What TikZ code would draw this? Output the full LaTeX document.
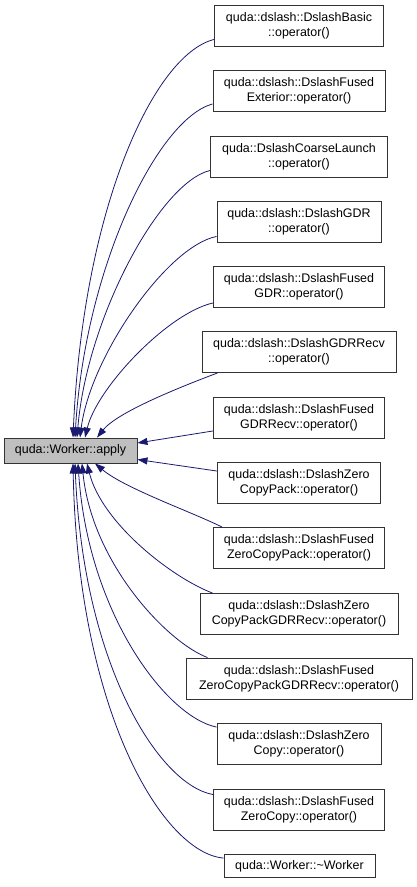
\documentclass[tikz,border=0pt]{standalone}
\usepackage{fontspec}
\setmainfont{Liberation Sans}
\usetikzlibrary{arrows.meta}
\definecolor{bleunuit}{RGB}{25,25,112}
\tikzset{
  fonction/.style={draw=black!80, line width=0.9pt, fill=white, inner sep=0pt,
    minimum height=41pt, align=center,
    font=\fontsize{12.45}{15}\selectfont},
  appelant/.style={fonction, fill=black!25, minimum height=25pt},
  fleche/.style={draw=bleunuit, line width=0.8pt,
    -{Triangle[length=10pt,width=7pt,fill=bleunuit]}}
}
\begin{document}
\begin{tikzpicture}[x=1pt, y=-1pt]
  \useasboundingbox (0,0) rectangle (417,887);
  % Fonction appelee
  \node[appelant, minimum width=133pt] (apply) at (70.5,450.5) {quda::Worker::apply};
  % Fonctions appelantes
  \node[fonction, minimum width=169pt] (basic) at (299,25.5)
    {quda::dslash::DslashBasic\\::operator()};
  \node[fonction, minimum width=172pt] (fusedext) at (299,91)
    {quda::dslash::DslashFused\\Exterior::operator()};
  \node[fonction, minimum width=177pt] (coarse) at (299,156.5)
    {quda::DslashCoarseLaunch\\::operator()};
  \node[fonction, minimum width=164pt] (gdr) at (299,221.5)
    {quda::dslash::DslashGDR\\::operator()};
  \node[fonction, minimum width=171pt] (fusedgdr) at (299,287)
    {quda::dslash::DslashFused\\GDR::operator()};
  \node[fonction, minimum width=194pt] (gdrrecv) at (299,352)
    {quda::dslash::DslashGDRRecv\\::operator()};
  \node[fonction, minimum width=171pt] (fusedgdrrecv) at (299,418)
    {quda::dslash::DslashFused\\GDRRecv::operator()};
  \node[fonction, minimum width=163pt] (zcpack) at (299,483)
    {quda::dslash::DslashZero\\CopyPack::operator()};
  \node[fonction, minimum width=171pt] (fusedzcpack) at (299,548)
    {quda::dslash::DslashFused\\ZeroCopyPack::operator()};
  \node[fonction, minimum width=198pt] (zcpackrecv) at (299,614)
    {quda::dslash::DslashZero\\CopyPackGDRRecv::operator()};
  \node[fonction, minimum width=226pt] (fusedzcpackrecv) at (299,678.5)
    {quda::dslash::DslashFused\\ZeroCopyPackGDRRecv::operator()};
  \node[fonction, minimum width=164pt] (zc) at (299,744)
    {quda::dslash::DslashZero\\Copy::operator()};
  \node[fonction, minimum width=171pt] (fusedzc) at (299,809.5)
    {quda::dslash::DslashFused\\ZeroCopy::operator()};
  \node[fonction, minimum width=151pt, minimum height=23pt] (dtor) at (299.5,866)
    {quda::Worker::\textasciitilde Worker};
  % Appels (au-dessus)
  \draw[fleche] ([yshift=7pt]basic.south west) .. controls +(-60,15) and +(10,-230) .. ([xshift=2.5pt]apply.north);
  \draw[fleche] ([yshift=8pt]fusedext.south west) .. controls +(-55,15) and +(10,-170) .. ([xshift=4.5pt]apply.north);
  \draw[fleche] ([yshift=7pt]coarse.south west) .. controls +(-50,12) and +(10,-120) .. ([xshift=6.5pt]apply.north);
  \draw[fleche] ([yshift=6pt]gdr.south west) .. controls +(-50,10) and +(10,-80) .. ([xshift=9.5pt]apply.north);
  \draw[fleche] ([yshift=5pt]fusedgdr.south west) .. controls +(-45,10) and +(12,-50) .. ([xshift=14.5pt]apply.north);
  \draw[fleche] ([xshift=16pt]gdrrecv.south west) .. controls +(-40,15) and +(20,-25) .. ([xshift=26.5pt]apply.north);
  % Appels (a droite)
  \draw[fleche] ([yshift=8pt]fusedgdrrecv.south west) -- ([yshift=7.5pt]apply.east);
  \draw[fleche] ([yshift=-9pt]zcpack.north west) -- ([yshift=-9pt]apply.east);
  % Appels (au-dessous)
  \draw[fleche] ([xshift=9pt]fusedzcpack.north west) .. controls +(-30,-15) and +(30,25) .. ([xshift=24.5pt]apply.south);
  \draw[fleche] ([xshift=13pt]zcpackrecv.north west) .. controls +(-40,-15) and +(15,60) .. ([xshift=16.5pt]apply.south);
  \draw[fleche] ([xshift=22pt]fusedzcpackrecv.north west) .. controls +(-40,-15) and +(10,100) .. ([xshift=11.5pt]apply.south);
  \draw[fleche] ([yshift=-4pt]zc.north west) .. controls +(-50,-10) and +(10,150) .. ([xshift=7.5pt]apply.south);
  \draw[fleche] ([yshift=-6pt]fusedzc.north west) .. controls +(-55,-10) and +(8,200) .. ([xshift=4.5pt]apply.south);
  \draw[fleche] ([yshift=-4pt]dtor.north west) .. controls +(-60,-5) and +(5,250) .. ([xshift=2.5pt]apply.south);
\end{tikzpicture}
\end{document}
